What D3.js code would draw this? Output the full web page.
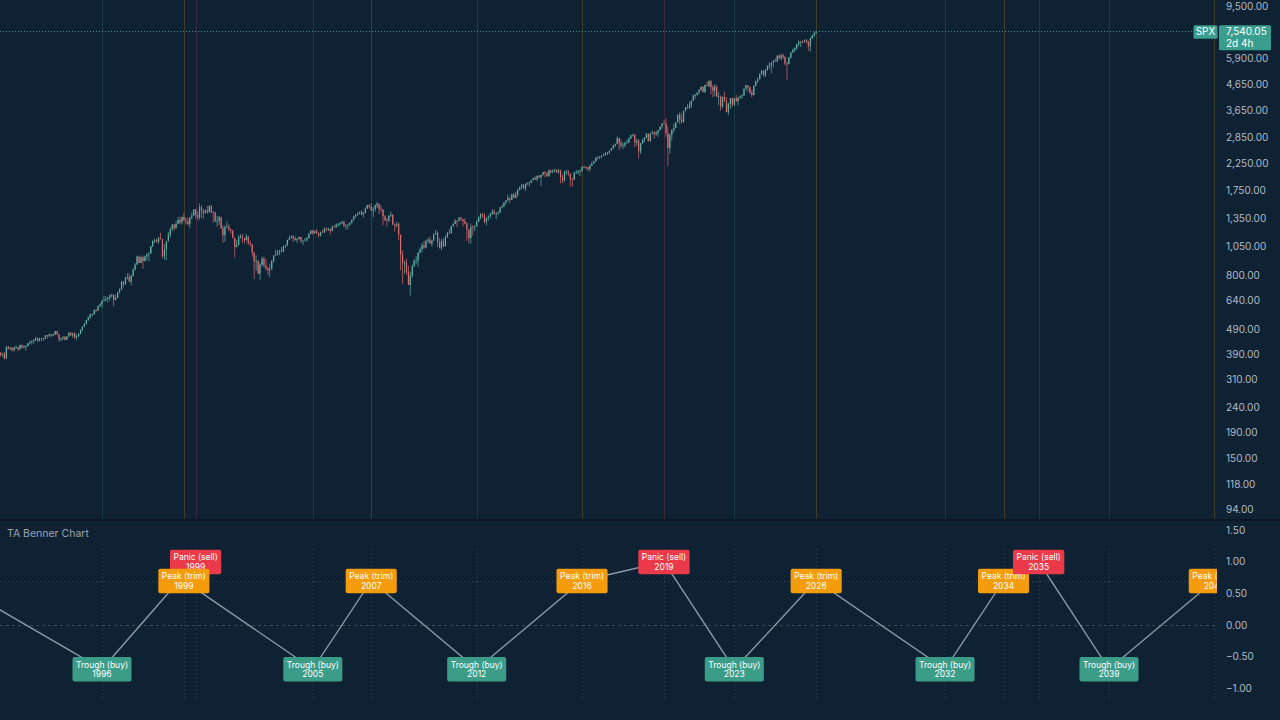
<!DOCTYPE html>
<html><head><meta charset="utf-8">
<script src="https://cdn.jsdelivr.net/npm/d3@7"></script>
<style>
html,body{margin:0;padding:0;background:#0f2234;overflow:hidden}
svg{display:block;font-family:Inter,"Noto Sans",sans-serif}
</style></head><body>
<svg id="c" width="1280" height="720"></svg>
<script>
// ---- DATA ----
const firstMonth = "1991-08-01";   // first monthly candle
const firstOpen = 388;
const closes = [
395,388,392,375,417,
409,413,404,415,415,408,424,414,418,419,431,436,
439,443,452,440,450,451,448,464,459,468,462,466,
482,467,446,451,457,444,458,475,463,472,454,459,
470,487,501,515,533,545,562,562,584,582,605,616,
636,640,646,654,669,671,640,652,687,705,757,741,
786,791,757,801,848,885,954,899,947,915,955,970,
980,1049,1102,1112,1091,1134,1121,957,1017,1099,1164,1229,
1280,1238,1286,1335,1302,1373,1329,1320,1283,1363,1389,1469,
1394,1366,1499,1452,1421,1455,1431,1518,1437,1429,1315,1320,
1366,1240,1160,1249,1256,1224,1211,1134,1041,1060,1139,1148,
1130,1107,1147,1077,1067,990,912,916,815,886,936,880,
856,841,848,917,964,975,990,1008,996,1051,1058,1112,
1131,1145,1126,1107,1121,1141,1102,1104,1115,1130,1174,1212,
1181,1204,1181,1157,1192,1191,1234,1220,1229,1207,1249,1248,
1280,1281,1295,1311,1270,1270,1277,1304,1336,1378,1401,1418,
1438,1407,1421,1482,1531,1503,1455,1474,1527,1549,1481,1468,
1379,1331,1323,1386,1400,1280,1267,1283,1165,969,896,903,
826,735,798,873,919,919,987,1021,1057,1036,1096,1115,
1074,1104,1169,1187,1089,1031,1102,1049,1141,1183,1181,1258,
1286,1327,1326,1364,1345,1321,1292,1219,1131,1253,1247,1258,
1312,1366,1408,1398,1310,1362,1379,1407,1441,1412,1416,1426,
1498,1515,1569,1598,1631,1606,1686,1633,1682,1757,1806,1848,
1783,1859,1872,1884,1924,1960,1931,2003,1972,2018,2068,2059,
1995,2105,2068,2086,2107,2063,2104,1972,1920,2079,2080,2044,
1940,1932,2060,2065,2097,2099,2174,2171,2168,2126,2199,2239,
2279,2364,2363,2384,2412,2423,2470,2472,2519,2575,2648,2674,
2824,2714,2641,2648,2705,2718,2816,2902,2914,2712,2760,2507,
2704,2784,2834,2946,2752,2942,2980,2926,2977,3038,3141,3231,
3226,2954,2585,2912,3044,3100,3271,3500,3363,3270,3622,3756,
3714,3811,3973,4181,4204,4298,4395,4523,4308,4605,4567,4766,
4516,4374,4530,4132,4132,3785,4130,3955,3586,3872,4080,3840,
4077,3970,4109,4169,4180,4450,4589,4508,4288,4194,4568,4770,
4846,5096,5254,5036,5278,5460,5522,5648,5762,5705,6032,5882,
6041,5955,5612,5569,5912,6205,6339,6460,6688,6840,6849,6845,
6940,6830,6560,7050,7250,7420,7540.05];
const highs = [
396,397,395,398,418,
421,417,416,417,423,416,425,425,422,423,431,441,
443,448,456,453,453,452,451,464,464,471,469,471,
482,482,468,452,458,460,459,476,476,474,477,466,
472,489,503,517,533,552,564,566,587,590,609,622,
639,665,664,657,672,680,673,673,690,712,762,762,
794,818,815,804,855,898,962,961,962,961,964,986,
993,1050,1106,1124,1123,1141,1187,1121,1067,1102,1193,1245,
1282,1282,1317,1371,1376,1373,1420,1365,1361,1373,1425,1475,
1478,1445,1553,1527,1481,1474,1517,1526,1531,1450,1435,1389,
1384,1377,1268,1270,1316,1287,1234,1219,1133,1111,1163,1173,
1176,1131,1173,1147,1107,1069,994,965,925,900,954,954,
935,864,895,924,965,1015,1015,1012,1040,1054,1064,1112,
1155,1159,1163,1150,1131,1146,1143,1109,1131,1142,1188,1217,
1218,1213,1229,1192,1199,1219,1245,1245,1243,1233,1270,1275,
1295,1297,1310,1326,1326,1284,1283,1306,1340,1389,1407,1432,
1441,1461,1438,1498,1535,1541,1556,1503,1539,1576,1545,1523,
1472,1396,1360,1397,1440,1404,1292,1313,1304,1166,1007,918,
935,877,832,888,930,956,996,1039,1081,1102,1113,1130,
1150,1113,1181,1220,1205,1132,1120,1129,1157,1196,1227,1263,
1303,1345,1333,1370,1371,1345,1357,1308,1230,1293,1276,1270,
1333,1378,1420,1422,1415,1364,1392,1426,1475,1470,1434,1448,
1504,1530,1570,1598,1688,1654,1698,1710,1730,1776,1814,1849,
1851,1867,1884,1897,1925,1968,1992,2005,2019,2019,2075,2094,
2065,2120,2114,2126,2135,2130,2132,2113,2021,2094,2117,2105,
2038,1963,2073,2111,2103,2121,2178,2194,2188,2170,2214,2278,
2301,2371,2401,2398,2419,2454,2484,2491,2519,2582,2658,2695,
2873,2836,2801,2718,2743,2791,2848,2917,2941,2940,2815,2800,
2708,2813,2861,2949,2955,2964,3028,3014,3022,3050,3154,3248,
3338,3394,3137,2955,3068,3233,3280,3515,3588,3550,3646,3760,
3870,3951,3994,4218,4238,4302,4429,4546,4546,4608,4744,4808,
4819,4595,4637,4594,4307,4178,4140,4325,4120,3906,4080,4101,
4095,4195,4110,4171,4232,4449,4607,4589,4542,4393,4588,4793,
4931,5111,5265,5263,5342,5524,5669,5651,5768,5879,6045,6100,
6128,6147,5987,5696,5968,6215,6427,6509,6699,6920,6870,6940,
7000,7020,6900,7120,7300,7480,7560];
const lows = [
376,381,379,371,372,
407,404,400,399,410,401,404,411,410,402,418,425,
426,429,440,434,438,440,440,447,450,457,455,460,
464,465,437,438,442,443,443,457,461,453,449,443,
457,468,481,501,511,528,540,553,559,573,579,601,
597,633,631,626,636,652,605,640,652,681,703,719,
737,773,756,733,794,838,888,898,898,855,912,922,
912,979,1040,1076,1085,1074,1114,940,924,923,1094,1136,
1205,1211,1232,1281,1281,1281,1328,1282,1269,1234,1341,1387,
1350,1325,1339,1357,1349,1420,1409,1431,1419,1305,1311,1255,
1274,1228,1081,1092,1240,1204,1177,1127,945,1039,1057,1124,
1082,1074,1108,1063,1048,952,776,838,815,768,872,862,
840,806,789,847,903,962,962,966,990,995,1031,1048,
1106,1125,1088,1106,1077,1114,1078,1060,1102,1090,1127,1172,
1163,1180,1175,1137,1146,1188,1183,1201,1206,1168,1202,1246,
1245,1253,1268,1288,1245,1219,1224,1263,1290,1327,1360,1385,
1403,1389,1364,1416,1476,1484,1448,1371,1439,1490,1407,1435,
1271,1325,1257,1314,1373,1272,1200,1247,1107,840,741,815,
805,735,667,784,868,889,869,979,992,1020,1030,1085,
1071,1045,1105,1170,1040,1028,1011,1040,1048,1132,1173,1181,
1257,1290,1249,1320,1318,1258,1282,1101,1075,1074,1159,1203,
1258,1312,1340,1358,1292,1267,1325,1355,1397,1403,1343,1398,
1426,1486,1501,1536,1582,1560,1604,1627,1633,1647,1747,1768,
1770,1737,1834,1815,1863,1915,1931,1905,1964,1821,2001,1973,
1981,1980,2040,2048,2067,2057,2045,1867,1872,1894,2019,1993,
1812,1811,1938,2034,2025,1992,2075,2148,2120,2083,2084,2187,
2234,2271,2322,2329,2353,2405,2407,2418,2447,2520,2557,2606,
2683,2533,2585,2553,2595,2691,2698,2802,2865,2603,2631,2346,
2443,2682,2722,2848,2750,2729,2955,2822,2892,2855,3051,3071,
3214,2855,2192,2447,2766,2966,3101,3285,3210,3234,3279,3633,
3695,3723,3724,3974,4056,4165,4233,4368,4306,4278,4560,4495,
4223,4115,4157,4124,3811,3637,3722,3955,3584,3492,3698,3765,
3795,3944,3809,4049,4049,4167,4386,4336,4238,4104,4194,4546,
4682,4845,5057,4954,4957,5234,5327,5120,5403,5703,5696,5833,
5773,5838,5505,4835,5578,5862,6190,6212,6360,6550,6521,6720,
6800,6750,6300,6250,7000,7150,7380];

const priceTicks = [94,118,150,190,240,310,390,490,640,800,1050,1350,1750,2250,2850,3650,4650,5900,9500];
const bennerTicks = [1.5,1,0.5,0,-0.5,-1];

const eventTypes = ["Peak (trim)","Trough (buy)","Panic (sell)","Peak (trim)","Trough (buy)","Peak (trim)","Trough (buy)","Peak (trim)","Panic (sell)","Trough (buy)","Peak (trim)","Trough (buy)","Peak (trim)","Panic (sell)","Trough (buy)","Peak (trim)"];
const eventYears = [1989,1996,1999,1999,2005,2007,2012,2016,2019,2023,2026,2032,2034,2035,2039,2043];
const eventDates = ["1989-07-01","1996-01-01","1999-12-31","1999-07-01","2005-01-01","2007-07-01","2012-01-01","2016-07-01","2019-12-31","2023-01-01","2026-07-01","2032-01-01","2034-07-01","2035-12-31","2039-01-01","2043-07-01"];
const eventValues = [0.7,-0.7,1,0.7,-0.7,0.7,-0.7,0.7,1,-0.7,0.7,-0.7,0.7,1,-0.7,0.7];

const symbol = "SPX", lastPrice = 7540.05, countdown = "2d 4h";
const paneTitle = "TA Benner Chart";

// ---- LAYOUT ----
const plotR = 1217, upBot = 519, loTop = 521, loBot = 703;
const parse = d3.timeParse("%Y-%m-%d");
const typeColor = {"Trough (buy)":"#3b9c88","Peak (trim)":"#f59c0c","Panic (sell)":"#ea3a4a"};

const x = d3.scaleTime().domain([new Date(1996,0,1), new Date(2039,0,1)]).range([102,1109]);
const y = d3.scaleLog().domain([85.9, 10037]).range([upBot, 0]);
const yb = d3.scaleLinear().domain([-1, 1.5]).range([688, 530.2]);

const svg = d3.select("#c");
svg.append("rect").attr("width",1280).attr("height",720).attr("fill","#0f2234");
const defs = svg.append("defs");
defs.append("clipPath").attr("id","cu").append("rect").attr("x",0).attr("y",0).attr("width",plotR).attr("height",upBot);
defs.append("clipPath").attr("id","cl").append("rect").attr("x",0).attr("y",loTop).attr("width",plotR).attr("height",loBot-loTop);

// separator
svg.append("rect").attr("x",0).attr("y",upBot).attr("width",1280).attr("height",2).attr("fill","#0a1722");

const events = eventTypes.map((t,i)=>({type:t, year:eventYears[i], date:parse(eventDates[i]), v:eventValues[i]}));
const visibleEvents = events.filter(d=>x(d.date)>=0 && x(d.date)<=plotR);

// upper vertical event lines
const gu = svg.append("g").attr("clip-path","url(#cu)");
gu.selectAll("line.ev").data(visibleEvents).join("line")
  .attr("x1",d=>Math.round(x(d.date))+0.5).attr("x2",d=>Math.round(x(d.date))+0.5)
  .attr("y1",0).attr("y2",upBot)
  .attr("stroke",d=>typeColor[d.type]).attr("stroke-opacity",0.22).attr("stroke-width",1);

// candles
const start = parse(firstMonth);
const candles = closes.map((c,i)=>({
  date: d3.timeMonth.offset(start,i),
  o: i===0 ? firstOpen : closes[i-1], h: highs[i], l: lows[i], c: c }));
const upC = "#5fb0a5", dnC = "#dd6a6c";
const gc = gu.append("g");
gc.selectAll("line").data(candles).join("line")
  .attr("x1",d=>x(d.date)).attr("x2",d=>x(d.date))
  .attr("y1",d=>y(Math.max(d.h,d.o,d.c))).attr("y2",d=>y(Math.min(d.l,d.o,d.c)))
  .attr("stroke",d=>d.c>=d.o?upC:dnC).attr("stroke-width",0.7);
gc.selectAll("rect").data(candles).join("rect")
  .attr("x",d=>x(d.date)-0.6).attr("width",1.2)
  .attr("y",d=>y(Math.max(d.o,d.c)))
  .attr("height",d=>Math.max(0.8, y(Math.min(d.o,d.c))-y(Math.max(d.o,d.c))))
  .attr("fill",d=>d.c>=d.o?upC:dnC);

// last price dotted line
svg.append("line").attr("x1",0).attr("x2",1193).attr("y1",Math.round(y(lastPrice))+0.5).attr("y2",Math.round(y(lastPrice))+0.5)
  .attr("stroke","#3fa79a").attr("stroke-opacity",0.85).attr("stroke-width",1).attr("stroke-dasharray","1,2");

// upper axis
const axU = svg.append("g").attr("transform",`translate(1226,0)`)
  .call(d3.axisRight(y).tickValues(priceTicks).tickFormat(d3.format(",.2f")).tickSize(0).tickPadding(0));
axU.select(".domain").remove();
axU.selectAll("text").attr("fill","#b3bac4").attr("font-size","10px").attr("font-family","Inter, sans-serif");

// price labels
const py = y(lastPrice);
svg.append("rect").attr("x",1193.5).attr("y",py-6).attr("width",24).attr("height",13.5).attr("rx",1.5).attr("fill","#3a9e8f");
svg.append("text").attr("x",1205.5).attr("y",py+0.5).attr("dy","0.35em").attr("text-anchor","middle")
  .attr("fill","#ffffff").attr("font-size","10px").text(symbol);
svg.append("rect").attr("x",1219).attr("y",py-6).attr("width",52).attr("height",25).attr("rx",1.5).attr("fill","#3a9e8f");
svg.append("text").attr("x",1226).attr("y",py+0.5).attr("dy","0.35em").attr("fill","#ffffff").attr("font-size","10px")
  .text(d3.format(",.2f")(lastPrice));
svg.append("text").attr("x",1226).attr("y",py+12).attr("dy","0.35em").attr("fill","#ffffff").attr("font-size","10px")
  .text(countdown);

// ---- LOWER PANE ----
const gl = svg.append("g").attr("clip-path","url(#cl)");
gl.append("line").attr("x1",0).attr("x2",plotR).attr("y1",Math.round(yb(0.7))+0.5).attr("y2",Math.round(yb(0.7))+0.5)
  .attr("stroke","#5d6b78").attr("stroke-opacity",0.55).attr("stroke-dasharray","1,3");
gl.append("line").attr("x1",0).attr("x2",plotR).attr("y1",Math.round(yb(0))+0.5).attr("y2",Math.round(yb(0))+0.5)
  .attr("stroke","#5d6b78").attr("stroke-opacity",0.55).attr("stroke-dasharray","3,3");
gl.selectAll("line.vd").data(visibleEvents).join("line").attr("class","vd")
  .attr("x1",d=>Math.round(x(d.date))+0.5).attr("x2",d=>Math.round(x(d.date))+0.5)
  .attr("y1",yb(1.2)).attr("y2",yb(-1.2))
  .attr("stroke","#6b7886").attr("stroke-opacity",0.5).attr("stroke-dasharray","1,3");
gl.append("path").datum(events)
  .attr("d",d3.line().x(d=>x(d.date)).y(d=>yb(d.v)))
  .attr("fill","none").attr("stroke","#8b98a5").attr("stroke-width",1.4);
const gb = gl.selectAll("g.box").data(visibleEvents).join("g").attr("class","box")
  .attr("transform",d=>`translate(${x(d.date)},${yb(d.v)})`);
gb.append("rect").attr("class","bg").attr("rx",2).attr("fill",d=>typeColor[d.type]);
gb.append("text").attr("text-anchor","middle").attr("y",-4.5).attr("dy","0.35em")
  .attr("fill","#ffffff").attr("font-size","8.5px").text(d=>d.type);
gb.append("text").attr("text-anchor","middle").attr("y",5).attr("dy","0.35em")
  .attr("fill","#ffffff").attr("font-size","8.5px").text(d=>d.year);
gb.each(function(){
  const g = d3.select(this);
  let w = 0; g.selectAll("text").each(function(){ w = Math.max(w, this.getComputedTextLength()); });
  w += 7;
  g.select("rect.bg").attr("x",-w/2).attr("y",-12).attr("width",w).attr("height",24.5);
});

// lower axis
const axL = svg.append("g").attr("transform",`translate(1226,0)`)
  .call(d3.axisRight(yb).tickValues(bennerTicks).tickFormat(d3.format(".2f")).tickSize(0).tickPadding(0));
axL.select(".domain").remove();
axL.selectAll("text").attr("fill","#b3bac4").attr("font-size","10px").attr("font-family","Inter, sans-serif");

svg.append("text").attr("x",7).attr("y",533).attr("dy","0.35em").attr("fill","#9aa2ac").attr("font-size","10.5px").text(paneTitle);
</script>
</body></html>
